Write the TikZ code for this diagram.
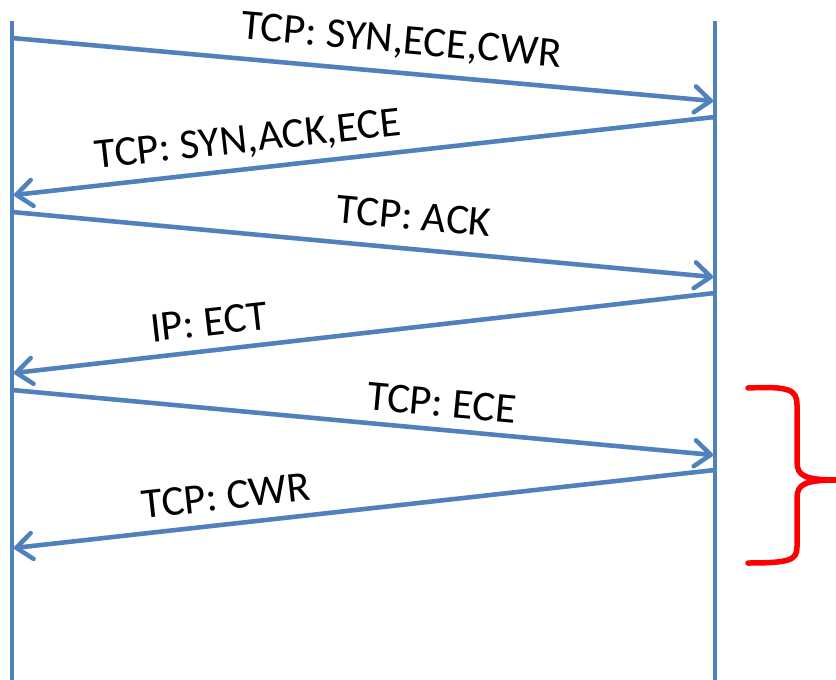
\documentclass[tikz,border=0pt]{standalone}
\usepackage{fontspec}
\setmainfont{Carlito}
\usetikzlibrary{arrows.meta}
\definecolor{msgblue}{RGB}{79,129,189}
\begin{document}
\begin{tikzpicture}[x=1pt,y=-1pt,
  lifeline/.style={draw=msgblue,line width=4.5pt},
  msg/.style={draw=msgblue,line width=4.5pt,
    -{Straight Barb[length=16pt,width=26pt,round]}},
  shadowline/.style={draw=black!40,line width=4.5pt,opacity=0.3},
  lbl/.style={font=\fontsize{42.5}{48}\selectfont,inner sep=0pt}]
\useasboundingbox (0,0) rectangle (836,680);

% lifeline ends
\coordinate (Ltop) at (12,21);   \coordinate (Lbot) at (12,680);
\coordinate (Rtop) at (715,21);  \coordinate (Rbot) at (715,680);

% message end points
\coordinate (s1) at (12,38);   \coordinate (e1) at (713,101);
\coordinate (s2) at (715,117); \coordinate (e2) at (14,195);
\coordinate (s3) at (12,212);  \coordinate (e3) at (713,277);
\coordinate (s4) at (715,293); \coordinate (e4) at (14,373);
\coordinate (s5) at (12,390);  \coordinate (e5) at (713,455);
\coordinate (s6) at (715,470); \coordinate (e6) at (14,548);

% soft shadows under the lines
\begin{scope}[shift={(2,3)}]
  \foreach \a/\b in {s1/e1,s2/e2,s3/e3,s4/e4,s5/e5,s6/e6,Ltop/Lbot,Rtop/Rbot}
    \draw[shadowline] (\a) -- (\b);
\end{scope}

% lifelines
\draw[lifeline] (Ltop) -- (Lbot);
\draw[lifeline] (Rtop) -- (Rbot);

% messages
\draw[msg] (s1) -- (e1);
\draw[msg] (s2) -- (e2);
\draw[msg] (s3) -- (e3);
\draw[msg] (s4) -- (e4);
\draw[msg] (s5) -- (e5);
\draw[msg] (s6) -- (e6);

% message labels
\node[lbl,rotate=-5.1] (t1) at (401,42)  {TCP: SYN,ECE,CWR};
\node[lbl,rotate=6.3]  (t2) at (248,141) {TCP: SYN,ACK,ECE};
\node[lbl,rotate=-5.3] (t3) at (414,216) {TCP: ACK};
\node[lbl,rotate=6.5]  (t4) at (209,322) {IP: ECT};
\node[lbl,rotate=-5.3] (t5) at (442,403) {TCP: ECE};
\node[lbl,rotate=6.3]  (t6) at (226,496) {TCP: CWR};

% brace around the last exchange
\draw[red,line width=5.5pt,line cap=round]
  (748,388) .. controls (790,386) and (797,390) .. (797,405)
  -- (797,462) .. controls (797,476) and (805,480) .. (838,480)
  .. controls (805,480) and (797,484) .. (797,498)
  -- (797,547) .. controls (797,560) and (790,563) .. (748,563);
\end{tikzpicture}
\end{document}
